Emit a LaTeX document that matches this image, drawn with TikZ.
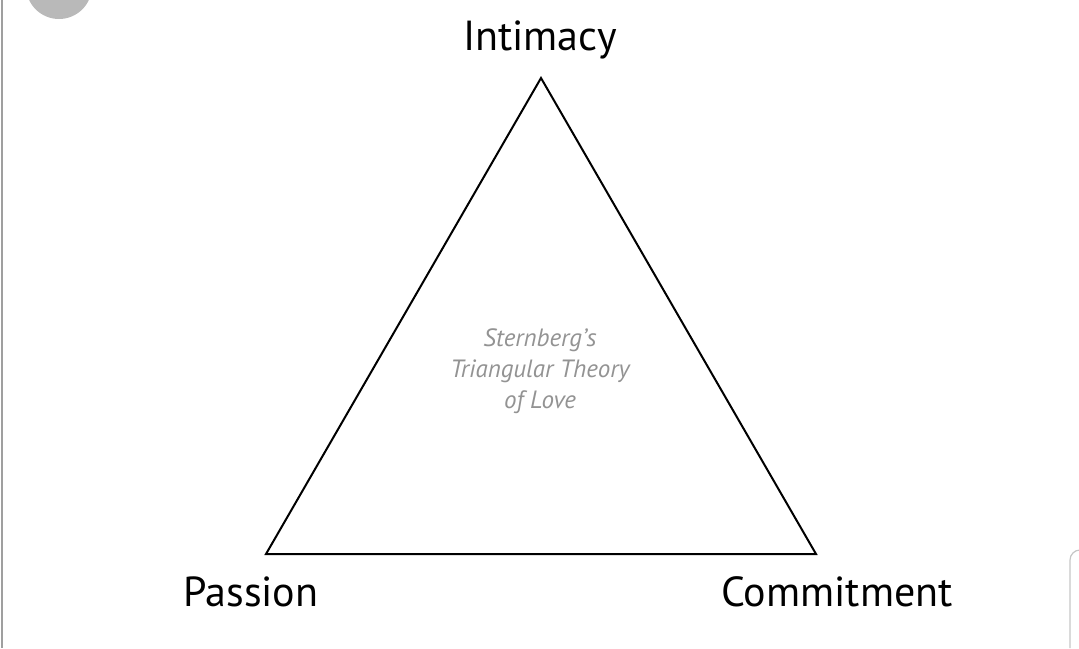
\documentclass[tikz,border=0pt]{standalone}
\usepackage{fontspec}
\setmainfont{PT Sans}
\begin{document}
\begin{tikzpicture}[x=1pt, y=-1pt, inner sep=0pt, line width=2pt]
      \useasboundingbox (0,0) rectangle (1079,648);
      \fill[gray!55] (59,-14) circle (33);
      \draw[gray!75, line width=2.4pt] (2,0) -- (2,648);
      \draw[gray!45, line width=1.2pt] (1070,648) -- (1070,560) arc (180:270:10) -- (1079,550);
      \coordinate (I) at (541,78);
      \coordinate (P) at (266,554);
      \coordinate (C) at (816,554);
      \draw[line join=miter] (I) -- (P) -- (C) -- cycle;
      \node (Il) at (540,40) {\fontsize{42}{48}\selectfont Intimacy};
      \node (Pl) at (251,592) {\fontsize{42}{48}\selectfont Passion};
      \node (Cl) at (837,592) {\fontsize{42}{48}\selectfont Commitment};
      \node[align=center, text=gray!85, font=\itshape\fontsize{25}{31}\selectfont] (T) at (540,371) {Sternberg's\\Triangular Theory\\of Love};
   \end{tikzpicture}
\end{document}
